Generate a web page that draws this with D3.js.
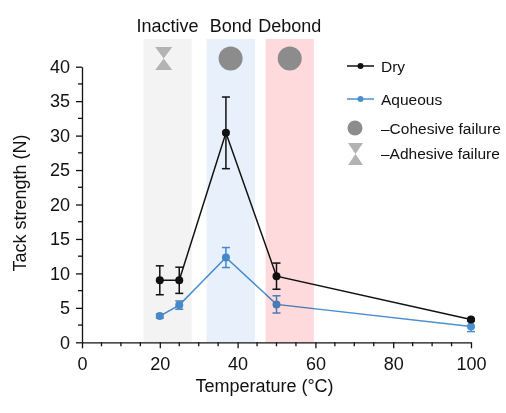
<!DOCTYPE html>
<html>
<head>
<meta charset="utf-8">
<script src="https://cdn.jsdelivr.net/npm/d3@7"></script>
<style>
  body { margin: 0; background: #fff; }
  svg text { font-family: "Liberation Sans", Arial, sans-serif; fill: #111; }
</style>
</head>
<body>
<div id="chart"></div>
<script>
// --- data ---
const temps   = [20, 25, 37, 50, 100];
const dryMean = [9.0, 9.0, 30.4, 9.6, 3.3];
const dryErr  = [2.1, 1.9, 5.2, 1.9, 0.15];
const aqMean  = [3.8, 5.4, 12.3, 5.5, 2.3];
const aqErr   = [0.3, 0.6, 1.45, 1.25, 0.75];

const bandNames = ["Inactive", "Bond", "Debond"];
const bandStart = [15.8, 32.0, 47.2];
const bandEnd   = [28.2, 44.5, 59.6];
const bandMode  = ["adhesive", "cohesive", "cohesive"];
const iconX     = [21, 38.2, 53.4];

const xTicks = [0, 20, 40, 60, 80, 100];
const yTicks = [0, 5, 10, 15, 20, 25, 30, 35, 40];

// --- styles ---
const bandColor = ["#f3f3f3", "#e8f1fb", "#ffdadd"];
const dryColor = "#111111";
const aqColor = "#4a8fcf";
const cohColor = "#8c8c8c";
const adhColor = "#b3b3b3";

const width = 506, height = 413;
const svg = d3.select("#chart").append("svg")
  .attr("width", width).attr("height", height);

const x = d3.scaleLinear().domain([0, 100]).range([82, 471]);
const y = d3.scaleLinear().domain([0, 40]).range([342.3, 66.7]);

// --- series ---
function drawSeries(means, errs, col, r) {
  const g = svg.append("g");
  const pts = temps.map((t, i) => ({ t, m: means[i], e: errs[i] }));
  g.append("path")
    .datum(pts)
    .attr("fill", "none").attr("stroke", col).attr("stroke-width", 1.5)
    .attr("d", d3.line().x(d => x(d.t)).y(d => y(d.m)));
  const eb = g.selectAll(".eb").data(pts).join("g")
    .attr("stroke", col).attr("stroke-width", 1.5);
  eb.append("line")
    .attr("x1", d => x(d.t)).attr("x2", d => x(d.t))
    .attr("y1", d => y(d.m - d.e)).attr("y2", d => y(d.m + d.e));
  [1, -1].forEach(s => {
    eb.append("line")
      .attr("x1", d => x(d.t) - 4).attr("x2", d => x(d.t) + 4)
      .attr("y1", d => y(d.m + s * d.e)).attr("y2", d => y(d.m + s * d.e));
  });
  g.selectAll("circle").data(pts).join("circle")
    .attr("cx", d => x(d.t)).attr("cy", d => y(d.m)).attr("r", r)
    .attr("fill", col);
}
drawSeries(aqMean, aqErr, aqColor, 4);
drawSeries(dryMean, dryErr, dryColor, 4);

// --- temperature regime bands (drawn on top, multiplied) ---
svg.append("g").selectAll("rect")
  .data(bandNames).join("rect")
  .attr("x", (d, i) => x(bandStart[i]))
  .attr("width", (d, i) => x(bandEnd[i]) - x(bandStart[i]))
  .attr("y", 39)
  .attr("height", y(0) - 39)
  .attr("fill", (d, i) => bandColor[i])
  .style("mix-blend-mode", "multiply");

svg.append("g").selectAll("text")
  .data(bandNames).join("text")
  .attr("x", (d, i) => x((bandStart[i] + bandEnd[i]) / 2))
  .attr("y", 32)
  .attr("text-anchor", "middle")
  .attr("font-size", 18)
  .text(d => d);

function hourglass(g, cx, cy, w, h) {
  g.append("path")
    .attr("d", `M${cx - w / 2},${cy - h / 2}L${cx + w / 2},${cy - h / 2}L${cx},${cy}Z` +
               `M${cx - w / 2},${cy + h / 2}L${cx + w / 2},${cy + h / 2}L${cx},${cy}Z`)
    .attr("fill", adhColor);
}

const icons = svg.append("g");
bandMode.forEach((m, i) => {
  const cx = x(iconX[i]), cy = y(41.2);
  if (m === "cohesive") {
    icons.append("circle").attr("cx", cx).attr("cy", cy).attr("r", 12).attr("fill", cohColor);
  } else {
    hourglass(icons, cx, cy, 17, 23);
  }
});

// --- axes ---
const xAxis = svg.append("g").attr("transform", `translate(0,${y(0)})`)
  .call(d3.axisBottom(x).tickValues(xTicks).tickSize(6).tickSizeOuter(0).tickPadding(9));
xAxis.append("g").selectAll("line")
  .data(d3.range(0, 101, 5).filter(v => v % 20 !== 0)).join("line")
  .attr("x1", d => x(d)).attr("x2", d => x(d))
  .attr("y1", 0).attr("y2", 4).attr("stroke", "#111").attr("stroke-width", 1.3);

const yAxis = svg.append("g").attr("transform", `translate(${x(0)},0)`)
  .call(d3.axisLeft(y).tickValues(yTicks).tickSize(6).tickSizeOuter(0).tickPadding(6));
yAxis.append("g").selectAll("line")
  .data(d3.range(2.5, 40, 5)).join("line")
  .attr("x1", 0).attr("x2", -4)
  .attr("y1", d => y(d)).attr("y2", d => y(d)).attr("stroke", "#111").attr("stroke-width", 1.3);

[xAxis, yAxis].forEach(a => {
  a.selectAll("path, line").attr("stroke", "#111").attr("stroke-width", 1.3);
  a.selectAll("text").attr("font-size", 18).attr("fill", "#111")
    .style("font-family", "'Liberation Sans', Arial, sans-serif");
});

svg.append("text")
  .attr("x", x(50) - 12).attr("y", 392)
  .attr("text-anchor", "middle").attr("font-size", 18)
  .text("Temperature (°C)");

svg.append("text")
  .attr("transform", `translate(26,203) rotate(-90)`)
  .attr("text-anchor", "middle").attr("font-size", 18)
  .text("Tack strength (N)");

// --- legend ---
const leg = svg.append("g");
[["Dry", dryColor, 66], ["Aqueous", aqColor, 99]].forEach(([name, col, ly]) => {
  leg.append("line").attr("x1", 347).attr("x2", 374).attr("y1", ly).attr("y2", ly)
    .attr("stroke", col).attr("stroke-width", 1.5);
  leg.append("circle").attr("cx", 360.5).attr("cy", ly).attr("r", 3).attr("fill", col);
  leg.append("text").attr("x", 381).attr("y", ly + 6).attr("font-size", 15.5).text(name);
});
leg.append("circle").attr("cx", 355).attr("cy", 128).attr("r", 7.5).attr("fill", cohColor);
leg.append("text").attr("x", 381).attr("y", 134).attr("font-size", 15.5).text("–Cohesive failure");
hourglass(leg, 355.5, 154, 15, 22);
leg.append("text").attr("x", 381).attr("y", 159).attr("font-size", 15.5).text("–Adhesive failure");
</script>
</body>
</html>
